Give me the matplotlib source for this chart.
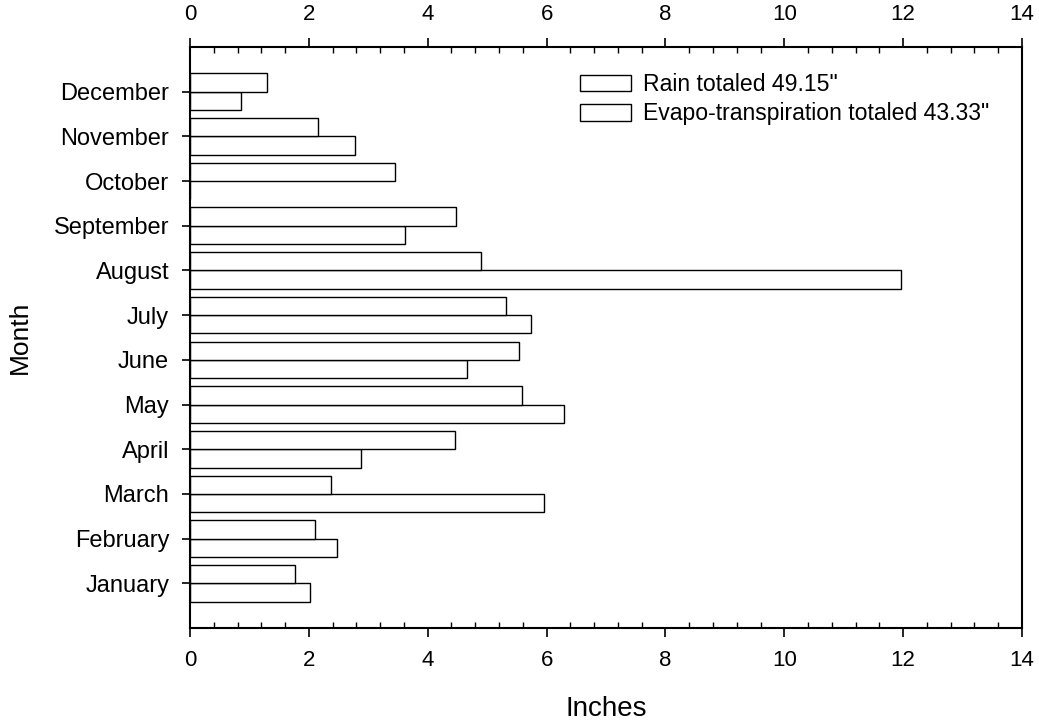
import numpy as np
import matplotlib.pyplot as plt
from matplotlib.ticker import MultipleLocator

plt.rcParams['font.family'] = ['Liberation Sans', 'DejaVu Sans']

# --- Dane ---
MONTHS = ["January", "February", "March", "April", "May", "June",
          "July", "August", "September", "October", "November", "December"]
RAIN = [2.02, 2.48, 5.95, 2.88, 6.29, 4.66, 5.74, 11.96, 3.61, 0.0, 2.78, 0.85]
ET = [1.76, 2.11, 2.37, 4.46, 5.58, 5.54, 5.31, 4.90, 4.47, 3.45, 2.16, 1.30]
LABELS = ['Rain totaled 49.15"', 'Evapo-transpiration totaled 43.33"']

fig = plt.figure(figsize=(10.39, 7.23), dpi=100)
ax = fig.add_axes([190 / 1039, 1 - 628 / 723, 832 / 1039, 581 / 723])

y = np.arange(1, len(MONTHS) + 1)
h = 0.41
ax.barh(y - h / 2, RAIN, h, color="white", edgecolor="black", linewidth=1.0, label=LABELS[0])
ax.barh(y + h / 2, ET, h, color="white", edgecolor="black", linewidth=1.0, label=LABELS[1])

ax.set_xlim(0, 14)
ax.set_ylim(0, 13)
ax.set_yticks(y)
ax.set_yticklabels(MONTHS)
ax.xaxis.set_major_locator(MultipleLocator(2))
ax.xaxis.set_minor_locator(MultipleLocator(0.4))

ax.tick_params(axis="x", which="major", direction="out", length=6.5, width=1.2,
               top=True, labeltop=True, labelsize=16, pad=9)
ax.tick_params(axis="x", which="minor", direction="in", length=4.3, width=1.0, top=True)
ax.tick_params(axis="y", which="major", direction="out", length=6, width=1.2,
               labelsize=17, pad=9)
for s in ax.spines.values():
    s.set_linewidth(1.5)

ax.set_xlabel("Inches", fontsize=20, labelpad=18)
ax.set_ylabel("Month", fontsize=19, labelpad=16)

ax.legend(loc="upper left", bbox_to_anchor=(580 / 1039, 1 - 73 / 723),
          bbox_transform=fig.transFigure, frameon=False, fontsize=16.6,
          handlelength=2.2, handleheight=0.72, handletextpad=0.55,
          labelspacing=0.28, borderpad=0, borderaxespad=0)

fig.savefig("out.png", dpi=100)
